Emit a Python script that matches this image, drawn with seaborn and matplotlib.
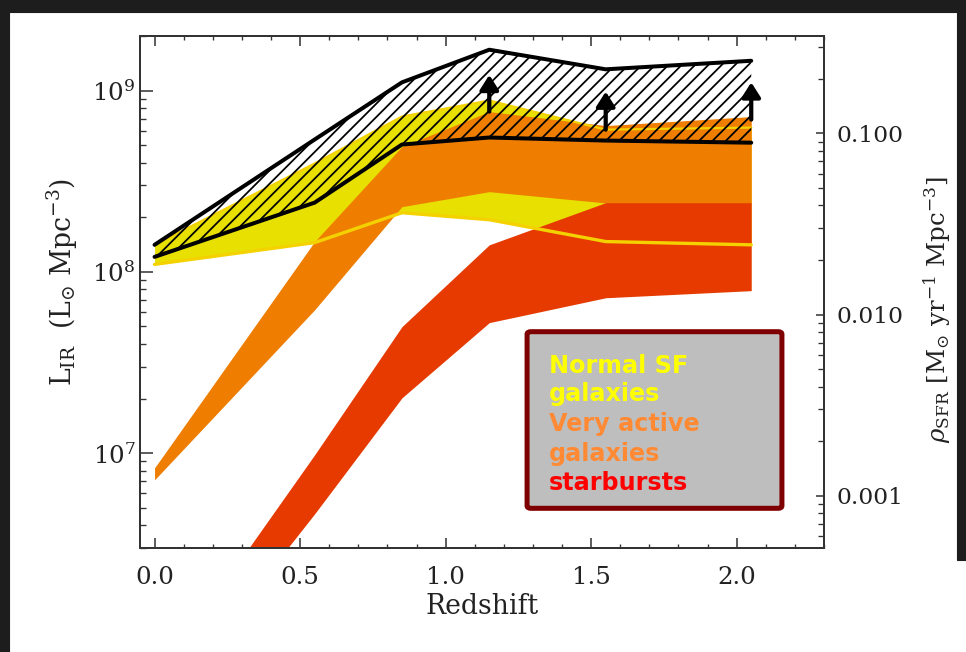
import numpy as np
import pandas as pd
import matplotlib
matplotlib.use("Agg")
import matplotlib.pyplot as plt
import seaborn as sns
from matplotlib.ticker import (MultipleLocator, LogLocator, FixedLocator,
                               NullFormatter, FuncFormatter, FormatStrFormatter)
from matplotlib.patches import Rectangle, FancyBboxPatch

# ---------------- data ----------------
redshift = [0.0, 0.55, 0.85, 1.15, 1.55, 2.05]
normal_low = [1.10e8, 1.45e8, 2.12e8, 1.94e8, 1.47e8, 1.41e8]
normal_high = [1.41e8, 3.96e8, 7.19e8, 8.81e8, 6.09e8, 6.25e8]
active_low = [7.13e6, 6.18e7, 2.29e8, 2.77e8, 2.40e8, 2.40e8]
active_high = [8.30e6, 1.47e8, 4.91e8, 7.66e8, 6.41e8, 7.19e8]
starburst_low = [3.5e5, 4.63e6, 2.02e7, 5.25e7, 7.20e7, 7.88e7]
starburst_high = [5.5e5, 9.80e6, 4.99e7, 1.41e8, 2.41e8, 2.41e8]
total_low = [1.21e8, 2.41e8, 5.04e8, 5.51e8, 5.30e8, 5.16e8]
total_high = [1.41e8, 5.37e8, 1.11e9, 1.68e9, 1.31e9, 1.46e9]
arrow_z = [1.15, 1.55, 2.05]
arrow_base = [7.66e8, 6.09e8, 6.92e8]
arrow_tip = [1.22e9, 9.87e8, 1.11e9]
legend_lines = ["Normal SF", "galaxies", "Very active", "galaxies", "starbursts"]
x_ticks = [0.0, 0.5, 1.0, 1.5, 2.0]
sfr_ticks = [0.001, 0.010, 0.100]
sfr_per_lir = 1.72e-10

df = pd.DataFrame({
    "z": redshift,
    "normal_low": normal_low, "normal_high": normal_high,
    "active_low": active_low, "active_high": active_high,
    "sb_low": starburst_low, "sb_high": starburst_high,
    "tot_low": total_low, "tot_high": total_high,
})

# ---------------- style ----------------
sns.set_theme(style="ticks")
plt.rcParams["font.family"] = ["DejaVu Serif"]
plt.rcParams["mathtext.fontset"] = "dejavuserif"
plt.rcParams["hatch.linewidth"] = 1.6
plt.rcParams["axes.edgecolor"] = "#333333"
plt.rcParams["xtick.color"] = "#333333"
plt.rcParams["ytick.color"] = "#333333"
plt.rcParams["xtick.labelcolor"] = "#222222"
plt.rcParams["ytick.labelcolor"] = "#222222"

W, H, DPI = 966, 652, 80
fig = plt.figure(figsize=(W / DPI, H / DPI), dpi=DPI, facecolor="white")

# dark frame around the slide
frame = "#1d1d1d"
fig.add_artist(Rectangle((0, 1 - 12 / H), 1, 12 / H, transform=fig.transFigure,
                         color=frame, zorder=-5))
fig.add_artist(Rectangle((0, 0), 9 / W, 1, transform=fig.transFigure,
                         color=frame, zorder=-5))
fig.add_artist(Rectangle((957 / W, 1 - 560 / H), 9 / W, 560 / H,
                         transform=fig.transFigure, color=frame, zorder=-5))

L, R, T, B = 140, 824, 36, 548
ax = fig.add_axes([L / W, 1 - B / H, (R - L) / W, (B - T) / H])
ax.set_facecolor("white")

yellow = "#E8E000"
orange = "#EE7D00"
red = "#E63A00"
yline = "#F4D200"

ax.fill_between(df["z"], df["normal_low"], df["normal_high"], color=yellow, lw=0, zorder=1)
ax.fill_between(df["z"], df["active_low"], df["active_high"], color=orange, lw=0, zorder=2)
ax.fill_between(df["z"], df["sb_low"], df["sb_high"], color=red, lw=0, zorder=3)
sns.lineplot(data=df, x="z", y="normal_low", color=yline, lw=3.0, ax=ax, zorder=4, sort=False)
sns.lineplot(data=df, x="z", y="normal_high", color=yline, lw=2.0, ax=ax, zorder=4, sort=False)

ax.fill_between(df["z"], df["tot_low"], df["tot_high"], facecolor="none",
                edgecolor="black", hatch="//", lw=0, zorder=5)
sns.lineplot(data=df, x="z", y="tot_high", color="black", lw=3.6, ax=ax, zorder=6, sort=False)
sns.lineplot(data=df, x="z", y="tot_low", color="black", lw=3.6, ax=ax, zorder=6, sort=False)

for zz, b0, t0 in zip(arrow_z, arrow_base, arrow_tip):
    ax.annotate("", xy=(zz, t0), xytext=(zz, b0),
                arrowprops=dict(arrowstyle="-|>,head_length=0.55,head_width=0.35",
                                color="black", lw=3.8, mutation_scale=20,
                                shrinkA=0, shrinkB=0), zorder=7)

ax.set_yscale("log")
ax.set_xlim(-0.05, 2.30)
ax.set_ylim(3e6, 2e9)
ax.xaxis.set_major_locator(FixedLocator(x_ticks))
ax.xaxis.set_minor_locator(MultipleLocator(0.1))
ax.xaxis.set_major_formatter(FormatStrFormatter("%.1f"))
ax.yaxis.set_major_locator(LogLocator(base=10))
ax.yaxis.set_minor_locator(LogLocator(base=10, subs=np.arange(2, 10)))
ax.yaxis.set_minor_formatter(NullFormatter())

ax.tick_params(axis="x", which="both", direction="in", top=True, bottom=True,
               labelsize=22, pad=16)
ax.tick_params(axis="x", which="major", length=9, width=1.4)
ax.tick_params(axis="x", which="minor", length=3.6, width=1.2)
ax.tick_params(axis="y", which="both", direction="in", left=True, right=False,
               labelsize=22, pad=4)
ax.tick_params(axis="y", which="major", length=11.5, width=1.4)
ax.tick_params(axis="y", which="minor", length=5.5, width=1.2)
for s in ax.spines.values():
    s.set_linewidth(1.8)

ax.set_xlabel("Redshift", fontsize=24, labelpad=4, color="#222222")
ax.set_ylabel(r"L$_{\rm IR}$  (L$_{\odot}$ Mpc$^{-3}$)", fontsize=24, color="#222222")
ax.yaxis.set_label_coords(-0.088, 0.52)

ax2 = ax.twinx()
ax2.set_yscale("log")
ax2.set_ylim(3e6 * sfr_per_lir, 2e9 * sfr_per_lir)
ax2.yaxis.set_major_locator(FixedLocator(sfr_ticks))
ax2.yaxis.set_major_formatter(FuncFormatter(lambda v, p: f"{v:.3f}"))
ax2.yaxis.set_minor_locator(LogLocator(base=10, subs=np.arange(2, 10)))
ax2.yaxis.set_minor_formatter(NullFormatter())
ax2.tick_params(axis="y", which="both", direction="in", labelsize=21, pad=11)
ax2.tick_params(axis="y", which="major", length=7, width=1.4)
ax2.tick_params(axis="y", which="minor", length=5, width=1.2)
ax2.set_ylabel(r"$\rho_{\rm SFR}$ [M$_{\odot}$ yr$^{-1}$ Mpc$^{-3}$]", fontsize=22,
               rotation=90, color="#222222")
ax2.yaxis.set_label_coords(1.143, 0.465)
for s in ax2.spines.values():
    s.set_linewidth(1.8)

# legend box
bx0, by0, bx1, by1 = 529, 333, 780, 507
box = FancyBboxPatch((bx0 / W, 1 - by1 / H), (bx1 - bx0) / W, (by1 - by0) / H,
                     boxstyle="round,pad=0.002,rounding_size=0.004",
                     transform=fig.transFigure, facecolor="#BEBEBE",
                     edgecolor="#7E0000", lw=4.5, zorder=10)
fig.add_artist(box)
leg_colors = ["#FFFF00", "#FFFF00", "#FF8A33", "#FF8A33", "#FF0000"]
baselines = [373, 401.5, 431, 460.5, 490]
for txt, col, yb in zip(legend_lines, leg_colors, baselines):
    fig.text(549 / W, 1 - yb / H, txt, color=col, fontsize=21.5, fontweight="bold",
             family="DejaVu Sans", va="baseline", ha="left", zorder=11)

fig.savefig("out.png", dpi=DPI, facecolor="white")
